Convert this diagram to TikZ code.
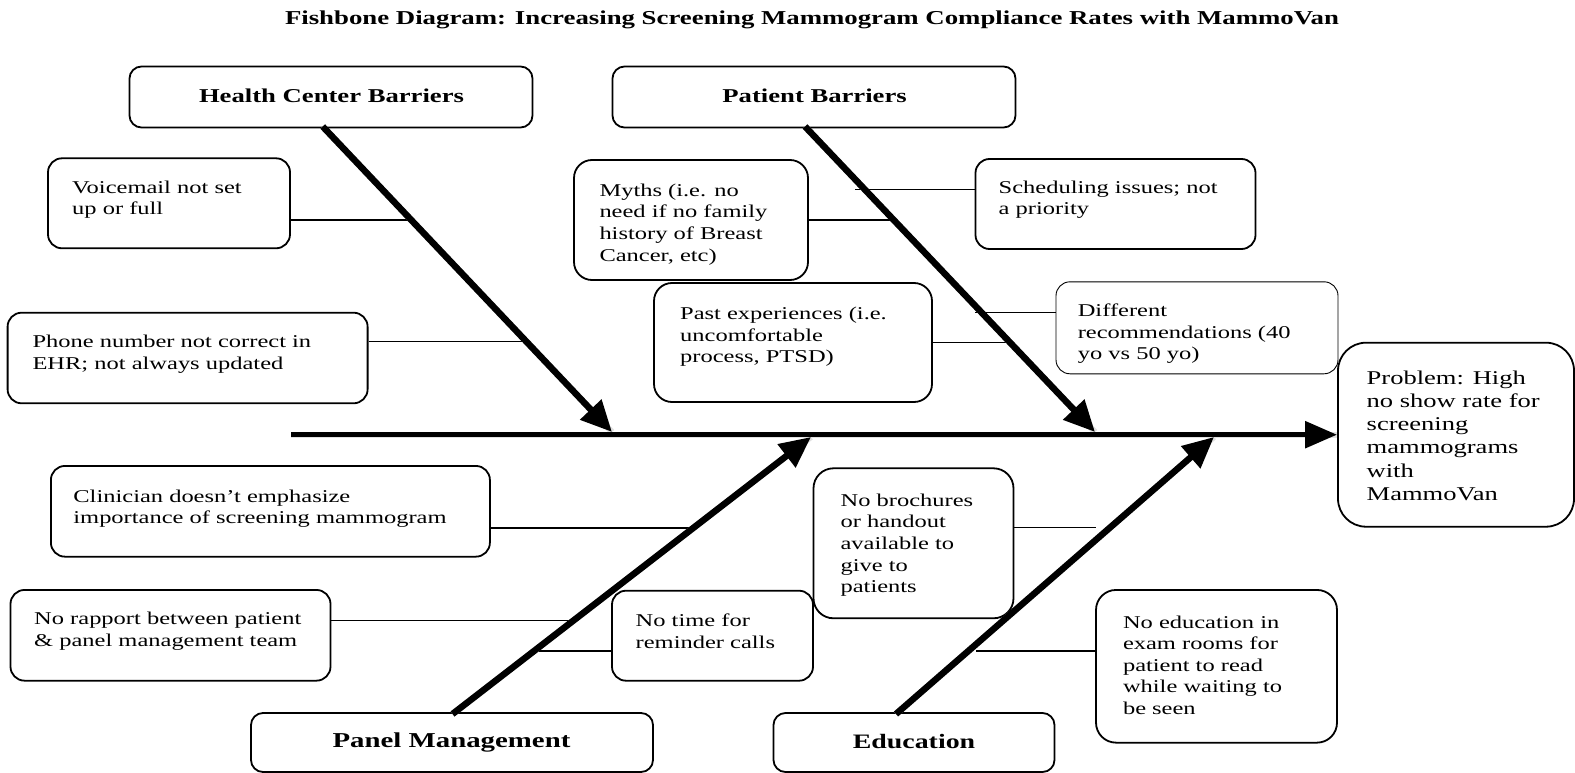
\documentclass[tikz,border=0pt]{standalone}
\usepackage{fontspec}
\setmainfont{Liberation Serif}[FakeStretch=1.36]
\usetikzlibrary{arrows.meta}
\begin{document}
\begin{tikzpicture}[x=1pt,y=-1pt,
  box/.style={draw, line width=1.8pt, rounded corners=14pt, fill=white, inner sep=0pt},
  thinbox/.style={box, line width=0.9pt},
  txt/.style={font=\fontsize{18}{21.6}\selectfont, align=left, inner sep=0pt, anchor=north west},
  bigtxt/.style={txt, font=\fontsize{19.5}{23.3}\selectfont},
  head/.style={font=\fontsize{19.6}{23}\selectfont\bfseries, inner sep=0pt},
  bone/.style={line width=6.5pt, -{Triangle[length=31pt,width=28pt]}},
  spine/.style={line width=5.5pt, -{Triangle[length=32pt,width=26pt]}},
  shade/.style={line width=6pt, black!12},
  rib/.style={line width=1.3pt},
]
\path[use as bounding box] (0,0) rectangle (1575,773);

% title
\node[font=\fontsize{19.7}{22}\selectfont\bfseries, inner sep=0pt] (title) at (812,19.5)
  {Fishbone Diagram: Increasing Screening Mammogram Compliance Rates with MammoVan};

% category boxes
\node[box, rounded corners=12pt, minimum width=403pt, minimum height=61pt] (hcb) at (331,97) {};
\node[head] (hcbt) at (331.5,95.5) {Health Center Barriers};
\node[box, rounded corners=12pt, minimum width=403pt, minimum height=61pt] (pb) at (814,97) {};
\node[head] (pbt) at (814.6,95.5) {Patient Barriers};
\node[box, rounded corners=12pt, minimum width=402pt, minimum height=59pt] (pm) at (452,742.5) {};
\node[head, font=\fontsize{21.2}{23}\selectfont\bfseries] (pmt) at (451.5,742.5) {Panel Management};
\node[box, rounded corners=12pt, minimum width=281pt, minimum height=59pt] (ed) at (914,742.5) {};
\node[head, font=\fontsize{20.5}{23}\selectfont\bfseries] (edt) at (914,741.5) {Education};

% cause boxes
\node[box, minimum width=242pt, minimum height=90pt] (vm) at (169,203.3) {};
\node[txt] (vmt) at (72,180.4) {Voicemail not set\\up or full};
\node[box, minimum width=360pt, minimum height=90.6pt] (ph) at (187.6,358) {};
\node[txt] (pht) at (32.3,335.2) {Phone number not correct in\\EHR; not always updated};
\node[box, rounded corners=18pt, minimum width=234pt, minimum height=120pt] (my) at (691,220) {};
\node[txt] (myt) at (599.3,183.7) {Myths (i.e. no\\need if no family\\history of Breast\\Cancer, etc)};
\node[box, minimum width=280pt, minimum height=90pt] (sc) at (1115.5,204) {};
\node[txt] (sct) at (998.5,180.7) {Scheduling issues; not\\a priority};
\node[box, rounded corners=18pt, minimum width=278pt, minimum height=119pt] (pe) at (793,342.5) {};
\node[txt] (pet) at (680,307) {Past experiences (i.e.\\uncomfortable\\process, PTSD)};
\node[thinbox, minimum width=282pt, minimum height=92pt] (dr) at (1197,327.8) {};
\node[txt] (drt) at (1077.6,303.7) {Different\\recommendations (40\\yo vs 50 yo)};
\node[box, rounded corners=28pt, minimum width=236pt, minimum height=184pt] (pr) at (1456,434.7) {};
\node[bigtxt] (prt) at (1366.5,370.3) {Problem: High\\no show rate for\\screening\\mammograms\\with\\MammoVan};
\node[box, minimum width=439pt, minimum height=90.7pt] (cl) at (270.4,511.3) {};
\node[txt] (clt) at (73.2,489.7) {Clinician doesn’t emphasize\\importance of screening mammogram};
\node[box, minimum width=320pt, minimum height=90.7pt] (ra) at (170.5,635.3) {};
\node[txt] (rat) at (34,612) {No rapport between patient\\\& panel management team};
\node[box, minimum width=201pt, minimum height=90pt] (nt) at (712.5,635.7) {};
\node[txt] (ntt) at (635.5,613.7) {No time for\\reminder calls};
\node[box, rounded corners=20pt, minimum width=200pt, minimum height=150pt] (br) at (913.5,543.3) {};
\node[txt] (brt) at (840.4,493.7) {No brochures\\or handout\\available to\\give to\\patients};
\node[box, rounded corners=20pt, minimum width=241pt, minimum height=152.7pt] (ne) at (1216.5,666.3) {};
\node[txt] (net) at (1122.8,615.4) {No education in\\exam rooms for\\patient to read\\while waiting to\\be seen};

% rib end points on bones
\coordinate (rvm) at (410.5,220);
\coordinate (rph) at (526,341.7);
\coordinate (rmy) at (893,220);
\coordinate (rsc) at (855,189.3);
\coordinate (rpe) at (1009,342.7);
\coordinate (rdr) at (975,312.3);
\coordinate (rcl) at (690,528);
\coordinate (rra) at (570,620.7);
\coordinate (rnt) at (539,651);
\coordinate (rbr) at (1096,527.7);
\coordinate (rne) at (976,651);

\draw[rib] (rvm -| vm.east) -- (rvm);
\draw[rib] (rph -| ph.east) -- (rph);
\draw[rib] (rmy -| my.east) -- (rmy);
\draw[rib] (rsc) -- (rsc -| sc.west);
\draw[rib] (rpe -| pe.east) -- (rpe);
\draw[rib] (rdr) -- (rdr -| dr.west);
\draw[rib] (rcl -| cl.east) -- (rcl);
\draw[rib] (rra -| ra.east) -- (rra);
\draw[rib] (rnt) -- (rnt -| nt.west);
\draw[rib] (rbr -| br.east) -- (rbr);
\draw[rib] (rne) -- (rne -| ne.west);

% bones
\coordinate (hS) at (322.7,126.5);
\coordinate (hE) at (612,432);
\coordinate (pS) at (805,126.5);
\coordinate (pE) at (1095,432);
\coordinate (mS) at (452.5,714);
\coordinate (mE) at (811,437);
\coordinate (eS) at (896,714);
\coordinate (eE) at (1214,437);
\coordinate (s0) at (291,434.7);

% soft shadows
\begin{scope}[shift={(2,3)}]
\draw[shade] (s0) -- (s0 -| pr.west);
\draw[shade] (hS) -- (hE);
\draw[shade] (pS) -- (pE);
\draw[shade] (mS) -- (mE);
\draw[shade] (eS) -- (eE);
\end{scope}

\draw[spine] (s0) -- (s0 -| pr.west);
\draw[bone] (hS) -- (hE);
\draw[bone] (pS) -- (pE);
\draw[bone] (mS) -- (mE);
\draw[bone] (eS) -- (eE);
\end{tikzpicture}
\end{document}
